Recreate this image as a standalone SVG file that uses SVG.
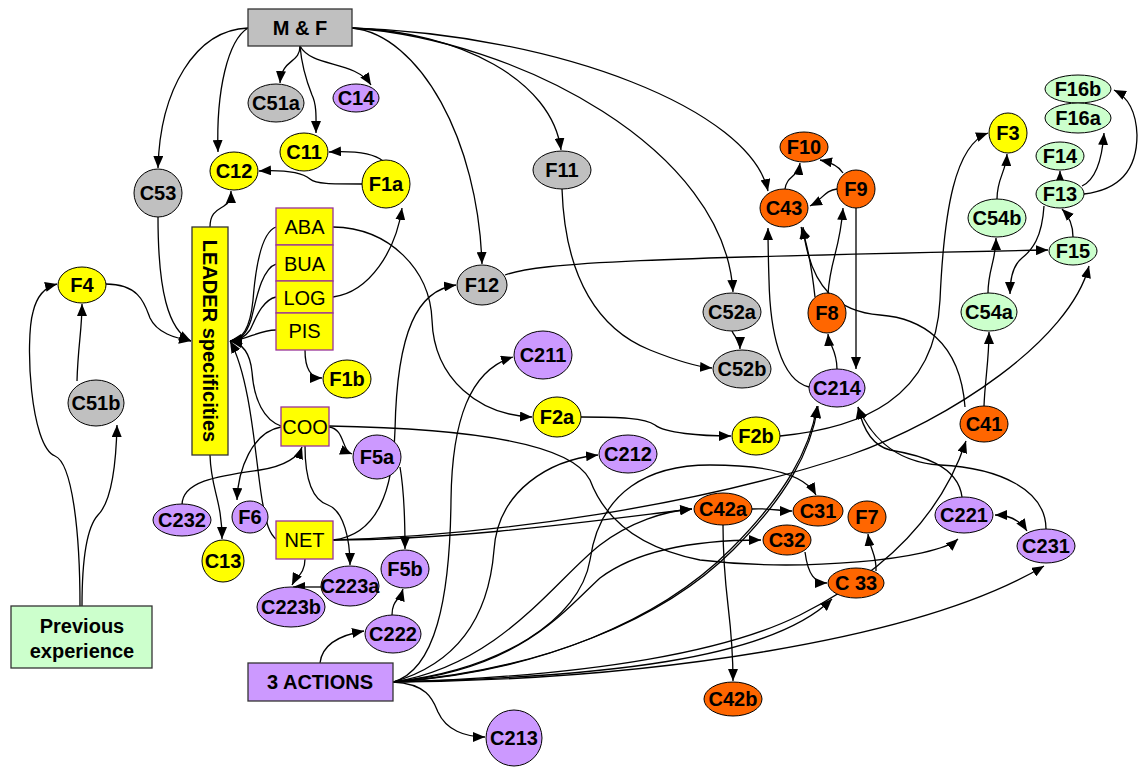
<svg xmlns="http://www.w3.org/2000/svg" width="1138" height="767" viewBox="0 0 1138 767">
  <defs>
    <marker id="arr" viewBox="0 0 12 10" markerWidth="12" markerHeight="10" markerUnits="userSpaceOnUse" refX="12" refY="5" orient="auto">
      <path d="M0,0 L12,5 L0,10 z" fill="#000"/>
    </marker>
    <marker id="arrS" viewBox="0 0 12 10" markerWidth="12" markerHeight="10" markerUnits="userSpaceOnUse" refX="12" refY="5" orient="auto-start-reverse">
      <path d="M0,0 L12,5 L0,10 z" fill="#000"/>
    </marker>
    <style>
      .gray { fill: #C0C0C0; stroke: #000; stroke-width: 1; }
      .yel { fill: #FFFF00; stroke: #000; stroke-width: 1; }
      .pur { fill: #CC99FF; stroke: #000; stroke-width: 1; }
      .ora { fill: #FF6600; stroke: #000; stroke-width: 1; }
      .grn { fill: #CCFFCC; stroke: #000; stroke-width: 1; }
      .ybox { fill: #FFFF00; stroke: #993399; stroke-width: 1.3; }
      .box { stroke: #333; stroke-width: 1.3; }
      text { font-family: "Liberation Sans", Arial, sans-serif; font-size: 20px; fill: #000; text-anchor: middle; dominant-baseline: central; }
      .b { font-weight: bold; }
      #edges path { fill: none; stroke: #000; stroke-width: 1.3; marker-end: url(#arr); }
    </style>
  </defs>
  <rect width="1138" height="767" fill="#fff"/>

  <!-- connectors -->
  <g id="edges">
    <path d="M 248 28 C 195 30, 160 90, 158 168"/>
    <path d="M 248 28 C 228 40, 216 90, 218 152"/>
    <path d="M 300 46 C 300 64, 282 58, 280 83"/>
    <path d="M 300 46 C 302 70, 308 85, 312 95 C 317 105, 316 120, 316 133"/>
    <path d="M 300 46 C 312 68, 355 60, 371 85"/>
    <path d="M 352 28 C 420 35, 478 140, 482 264"/>
    <path d="M 352 28 C 460 32, 552 80, 561 150"/>
    <path d="M 352 28 C 520 40, 725 150, 733 292"/>
    <path d="M 352 28 C 560 35, 750 110, 768 191"/>
    <path d="M 158 217 C 158 290, 168 330, 191 341"/>
    <path d="M 106 284 C 140 284, 145 305, 150 318 C 157 333, 175 338, 191 341"/>
    <path d="M 77 381 C 78 345, 82 330, 82 304"/>
    <path d="M 80 606 C 80 530, 72 463, 55 456 C 30 446, 25 340, 33 312 C 37 295, 45 287, 57 284"/>
    <path d="M 82 606 C 82 560, 86 528, 98 515 C 110 503, 116 470, 117 425"/>
    <path d="M 210 227 C 210 212, 218 210, 224 206 C 230 202, 231 198, 231 191"/>
    <path d="M 362 184 C 330 184, 316 184, 310 179 C 300 171, 280 170, 259 171"/>
    <path d="M 383 161 C 372 152, 350 151, 329 152"/>
    <path d="M 333 297 C 370 292, 396 250, 402 208"/>
    <path d="M 333 227 C 390 228, 430 270, 432 320 C 434 380, 480 415, 532 417"/>
    <path d="M 276 227 C 262 232, 256 262, 253 300 C 250 330, 242 339, 230 341"/>
    <path d="M 276 264 C 262 268, 256 300, 251 320 C 246 335, 240 340, 230 341"/>
    <path d="M 276 297 C 262 300, 255 320, 250 330 C 245 337, 238 341, 230 341"/>
    <path d="M 276 330 C 258 330, 248 340, 230 341"/>
    <path d="M 281 426 C 264 420, 254 400, 252 372 C 250 352, 242 343, 230 341"/>
    <path d="M 277 540 C 268 533, 266 520, 263 505 C 256 470, 252 380, 230 341"/>
    <path d="M 210 455 C 211 490, 222 500, 222 539"/>
    <path d="M 305 350 C 305 368, 310 378, 322 378"/>
    <path d="M 329 427 C 345 429, 341 450, 352 454"/>
    <path d="M 281 427 C 252 432, 238 470, 237 500"/>
    <path d="M 182 505 C 182 482, 215 476, 260 470 C 286 466, 299 456, 302 447"/>
    <path d="M 305 446 C 305 480, 313 500, 328 505 C 344 511, 350 540, 350 565"/>
    <path d="M 329 426 C 450 428, 570 440, 590 480 C 605 520, 640 548, 700 560 C 800 572, 935 560, 958 539"/>
    <path d="M 333 540 C 378 535, 393 490, 395 430 C 397 330, 418 290, 456 285"/>
    <path d="M 333 540 C 460 540, 600 520, 692 509"/>
    <path d="M 333 540 C 500 535, 700 505, 850 455 C 950 420, 1070 340, 1089 266"/>
    <path d="M 305 559 C 305 574, 296 577, 292 585"/>
    <path d="M 321 587 L 293 587"/>
    <path d="M 400 467 C 404 490, 405 520, 405 549"/>
    <path d="M 392 615 C 392 600, 400 600, 403 589"/>
    <path d="M 320 663 C 322 645, 340 635, 364 631"/>
    <path d="M 393 682 C 428 684, 433 700, 438 712 C 446 730, 465 737, 485 737"/>
    <path d="M 393 682 C 435 670, 450 600, 451 500 C 452 420, 470 370, 513 357"/>
    <path d="M 393 682 C 470 660, 490 600, 494 550 C 498 490, 550 460, 598 455"/>
    <path d="M 393 682 C 500 670, 580 620, 590 560 C 600 490, 650 465, 710 465 C 770 465, 805 475, 816 495"/>
    <path d="M 393 682 C 500 665, 555 580, 600 545 C 630 522, 665 511, 692 509"/>
    <path d="M 393 682 C 520 670, 565 610, 600 578 C 640 548, 700 540, 761 540"/>
    <path d="M 393 682 C 540 672, 660 620, 730 550 C 785 495, 810 450, 817 406"/>
    <path d="M 393 682 C 545 670, 665 618, 733 550 C 786 497, 811 452, 818 406"/>
    <path d="M 393 682 C 600 676, 730 650, 800 615 C 880 575, 940 520, 966 441"/>
    <path d="M 393 682 C 600 677, 770 660, 832 599"/>
    <path d="M 393 682 C 650 680, 920 640, 1044 566"/>
    <path d="M 752 509 C 770 508, 780 511, 792 511"/>
    <path d="M 723 525 C 723 600, 733 612, 733 681"/>
    <path d="M 805 552 C 808 575, 815 583, 827 583"/>
    <path d="M 876 571 C 877 555, 870 550, 868 534"/>
    <path d="M 995 515 C 1010 515, 1020 520, 1027 531" marker-start="url(#arrS)"/>
    <path d="M 1046 529 C 1046 490, 1000 468, 940 465 C 890 462, 868 430, 858 407"/>
    <path d="M 962 497 C 958 465, 920 455, 890 450 C 870 445, 862 425, 858 407"/>
    <path d="M 984 406 C 985 380, 989 360, 989 332"/>
    <path d="M 988 293 C 988 270, 996 260, 996 238"/>
    <path d="M 997 199 C 997 178, 1006 172, 1007 154"/>
    <path d="M 1060 180 L 1060 171"/>
    <path d="M 1082 186 C 1095 180, 1102 160, 1104 133"/>
    <path d="M 1084 194 C 1118 190, 1137 172, 1137 135 C 1136 108, 1126 96, 1114 90"/>
    <path d="M 1073 237 C 1073 223, 1068 215, 1062 209"/>
    <path d="M 1044 206 C 1042 238, 1032 250, 1022 258 C 1012 266, 1010 280, 1010 294"/>
    <path d="M 505 275 C 540 262, 650 258, 1048 250"/>
    <path d="M 581 417 C 620 417, 645 418, 655 425 C 665 433, 700 436, 731 436"/>
    <path d="M 780 436 C 860 428, 935 400, 940 300 C 944 210, 955 145, 988 133"/>
    <path d="M 562 189 C 565 280, 600 330, 650 350 C 680 362, 700 367, 712 368"/>
    <path d="M 732 331 C 735 338, 740 340, 740 349"/>
    <path d="M 843 173 C 838 165, 830 162, 820 160"/>
    <path d="M 785 189 C 787 175, 798 178, 800 163"/>
    <path d="M 837 189 C 825 190, 822 200, 810 206"/>
    <path d="M 828 294 C 830 260, 840 250, 843 208"/>
    <path d="M 856 208 L 856 369"/>
    <path d="M 837 369 C 837 350, 829 345, 828 334"/>
    <path d="M 809 387 C 780 380, 770 330, 769 280 C 768 250, 768 240, 768 228"/>
    <path d="M 815 297 C 812 270, 808 245, 801 227"/>
    <path d="M 965 407 C 960 340, 920 318, 880 315 C 840 312, 810 290, 803 227"/>
  </g>

  <!-- rectangular nodes -->
  <g id="MF"><rect class="gray box" x="248" y="9" width="104" height="37"/><text class="b" x="300" y="28">M &amp; F</text></g>
  <g id="LEADER"><rect class="yel box" x="192" y="227" width="36" height="228"/><text class="b" transform="translate(210 341) rotate(90)">LEADER specificities</text></g>
  <g id="ABA"><rect class="ybox" x="276" y="208" width="57" height="37"/><text x="304.5" y="227">ABA</text></g>
  <g id="BUA"><rect class="ybox" x="276" y="245" width="57" height="36"/><text x="304.5" y="264">BUA</text></g>
  <g id="LOG"><rect class="ybox" x="276" y="281" width="57" height="32"/><text x="304.5" y="298">LOG</text></g>
  <g id="PIS"><rect class="ybox" x="276" y="313" width="57" height="37"/><text x="304.5" y="331">PIS</text></g>
  <g id="COO"><rect class="ybox" x="281" y="407" width="48" height="39"/><text x="305" y="427">COO</text></g>
  <g id="NET"><rect class="ybox" x="276" y="521" width="57" height="38"/><text x="304.5" y="540">NET</text></g>
  <g id="ACTIONS"><rect class="pur box" x="248" y="663" width="145" height="38"/><text class="b" x="320" y="682">3 ACTIONS</text></g>
  <g id="PREV"><rect class="grn box" x="11" y="606" width="141" height="62"/><text class="b" x="82" y="626">Previous</text><text class="b" x="82" y="651">experience</text></g>

  <!-- gray nodes -->
  <g id="C51a"><ellipse class="gray" cx="276" cy="103" rx="28" ry="19"/><text class="b" x="276" y="103">C51a</text></g>
  <g id="C53"><ellipse class="gray" cx="158" cy="193" rx="24" ry="24"/><text class="b" x="158" y="193">C53</text></g>
  <g id="C51b"><ellipse class="gray" cx="96" cy="403" rx="28" ry="23"/><text class="b" x="96" y="403">C51b</text></g>
  <g id="F11"><ellipse class="gray" cx="562" cy="170" rx="29" ry="19"/><text class="b" x="562" y="170">F11</text></g>
  <g id="F12"><ellipse class="gray" cx="482" cy="285" rx="25" ry="20"/><text class="b" x="482" y="285">F12</text></g>
  <g id="C52a"><ellipse class="gray" cx="732" cy="312" rx="29" ry="19"/><text class="b" x="732" y="312">C52a</text></g>
  <g id="C52b"><ellipse class="gray" cx="742" cy="369" rx="29" ry="19"/><text class="b" x="742" y="369">C52b</text></g>

  <!-- yellow nodes -->
  <g id="C11"><ellipse class="yel" cx="304" cy="152" rx="24" ry="19"/><text class="b" x="304" y="152">C11</text></g>
  <g id="C12"><ellipse class="yel" cx="234" cy="171" rx="24" ry="19"/><text class="b" x="234" y="171">C12</text></g>
  <g id="F1a"><ellipse class="yel" cx="386" cy="184" rx="24" ry="24"/><text class="b" x="386" y="184">F1a</text></g>
  <g id="F1b"><ellipse class="yel" cx="347" cy="379" rx="24" ry="19"/><text class="b" x="347" y="379">F1b</text></g>
  <g id="F4"><ellipse class="yel" cx="82" cy="285" rx="24" ry="18"/><text class="b" x="82" y="285">F4</text></g>
  <g id="C13"><ellipse class="yel" cx="223" cy="561" rx="21" ry="21"/><text class="b" x="223" y="561">C13</text></g>
  <g id="F2a"><ellipse class="yel" cx="557" cy="417" rx="24" ry="20"/><text class="b" x="557" y="417">F2a</text></g>
  <g id="F2b"><ellipse class="yel" cx="756" cy="436" rx="24" ry="19"/><text class="b" x="756" y="436">F2b</text></g>
  <g id="F3"><ellipse class="yel" cx="1008" cy="133" rx="19" ry="20"/><text class="b" x="1008" y="133">F3</text></g>

  <!-- purple nodes -->
  <g id="C14"><ellipse class="pur" cx="356" cy="98" rx="23" ry="14"/><text class="b" x="356" y="98">C14</text></g>
  <g id="F5a"><ellipse class="pur" cx="377" cy="457" rx="24" ry="22"/><text class="b" x="377" y="457">F5a</text></g>
  <g id="F6"><ellipse class="pur" cx="250" cy="517" rx="18" ry="16"/><text class="b" x="250" y="517">F6</text></g>
  <g id="C232"><ellipse class="pur" cx="182" cy="520" rx="29" ry="16"/><text class="b" x="182" y="520">C232</text></g>
  <g id="C223a"><ellipse class="pur" cx="350" cy="586" rx="29" ry="20"/><text class="b" x="350" y="586">C223a</text></g>
  <g id="C223b"><ellipse class="pur" cx="291" cy="607" rx="34" ry="20"/><text class="b" x="291" y="607">C223b</text></g>
  <g id="F5b"><ellipse class="pur" cx="405" cy="569" rx="24" ry="19"/><text class="b" x="405" y="569">F5b</text></g>
  <g id="C222"><ellipse class="pur" cx="393" cy="634" rx="28" ry="19"/><text class="b" x="393" y="634">C222</text></g>
  <g id="C213"><ellipse class="pur" cx="514" cy="738" rx="28" ry="28"/><text class="b" x="514" y="738">C213</text></g>
  <g id="C211"><ellipse class="pur" cx="543" cy="355" rx="29" ry="24"/><text class="b" x="543" y="355">C211</text></g>
  <g id="C212"><ellipse class="pur" cx="628" cy="454" rx="29" ry="19"/><text class="b" x="628" y="454">C212</text></g>
  <g id="C214"><ellipse class="pur" cx="837" cy="388" rx="28" ry="19"/><text class="b" x="837" y="388">C214</text></g>
  <g id="C221"><ellipse class="pur" cx="964" cy="515" rx="29" ry="18"/><text class="b" x="964" y="515">C221</text></g>
  <g id="C231"><ellipse class="pur" cx="1046" cy="546" rx="29" ry="17"/><text class="b" x="1046" y="546">C231</text></g>

  <!-- orange nodes -->
  <g id="F10"><ellipse class="ora" cx="804" cy="147" rx="24" ry="15"/><text class="b" x="804" y="147">F10</text></g>
  <g id="F9"><ellipse class="ora" cx="856" cy="189" rx="19" ry="19"/><text class="b" x="856" y="189">F9</text></g>
  <g id="C43"><ellipse class="ora" cx="784" cy="208" rx="24" ry="19"/><text class="b" x="784" y="208">C43</text></g>
  <g id="F8"><ellipse class="ora" cx="827" cy="313" rx="19" ry="20"/><text class="b" x="827" y="313">F8</text></g>
  <g id="C41"><ellipse class="ora" cx="984" cy="424" rx="24" ry="18"/><text class="b" x="984" y="424">C41</text></g>
  <g id="C42a"><ellipse class="ora" cx="723" cy="509" rx="29" ry="16"/><text class="b" x="723" y="509">C42a</text></g>
  <g id="C31"><ellipse class="ora" cx="818" cy="511" rx="25" ry="15"/><text class="b" x="818" y="511">C31</text></g>
  <g id="F7"><ellipse class="ora" cx="867" cy="517" rx="19" ry="16"/><text class="b" x="867" y="517">F7</text></g>
  <g id="C32"><ellipse class="ora" cx="787" cy="540" rx="24" ry="15"/><text class="b" x="787" y="540">C32</text></g>
  <g id="C33"><ellipse class="ora" cx="856" cy="583" rx="28" ry="15"/><text class="b" x="856" y="583">C 33</text></g>
  <g id="C42b"><ellipse class="ora" cx="733" cy="699" rx="29" ry="17"/><text class="b" x="733" y="699">C42b</text></g>

  <!-- light green nodes -->
  <g id="C54a"><ellipse class="grn" cx="989" cy="312" rx="28" ry="19"/><text class="b" x="989" y="312">C54a</text></g>
  <g id="C54b"><ellipse class="grn" cx="997" cy="218" rx="29" ry="19"/><text class="b" x="997" y="218">C54b</text></g>
  <g id="F16b"><ellipse class="grn" cx="1078" cy="89" rx="33" ry="14"/><text class="b" x="1078" y="89">F16b</text></g>
  <g id="F16a"><ellipse class="grn" cx="1078" cy="118" rx="33" ry="15"/><text class="b" x="1078" y="118">F16a</text></g>
  <g id="F14"><ellipse class="grn" cx="1060" cy="156" rx="24" ry="14"/><text class="b" x="1060" y="156">F14</text></g>
  <g id="F13"><ellipse class="grn" cx="1060" cy="194" rx="24" ry="14"/><text class="b" x="1060" y="194">F13</text></g>
  <g id="F15"><ellipse class="grn" cx="1073" cy="251" rx="24" ry="14"/><text class="b" x="1073" y="251">F15</text></g>
</svg>
